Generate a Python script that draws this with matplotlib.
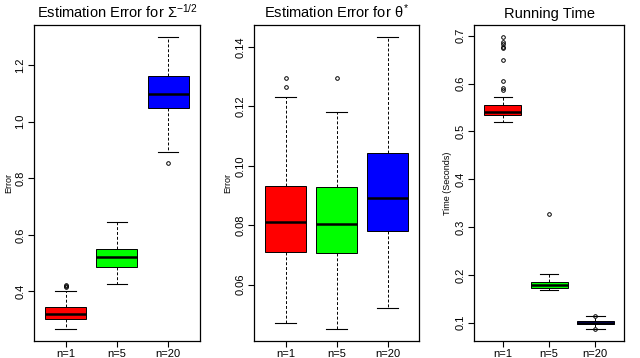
import matplotlib
matplotlib.use("Agg")
import matplotlib.pyplot as plt

plt.rcParams["font.family"] = ["Liberation Sans", "DejaVu Sans"]
plt.rcParams["mathtext.fontset"] = "custom"
plt.rcParams["mathtext.rm"] = "Liberation Sans"
plt.rcParams["mathtext.it"] = "Liberation Sans"

groups = ["n=1", "n=5", "n=20"]
box_colors = ["#FF0000", "#00FF00", "#0000FF"]

# panel 1: estimation error for Sigma^{-1/2}
sig_q1 = [0.302, 0.487, 1.048]
sig_med = [0.320, 0.523, 1.097]
sig_q3 = [0.345, 0.551, 1.161]
sig_lo = [0.266, 0.428, 0.893]
sig_hi = [0.403, 0.644, 1.299]
sig_fliers = [[0.415, 0.420, 0.424], [], [0.855]]

# panel 2: estimation error for theta*
th_q1 = [0.0711, 0.0707, 0.0779]
th_med = [0.0812, 0.0803, 0.0893]
th_q3 = [0.0931, 0.0929, 0.1042]
th_lo = [0.0470, 0.0449, 0.0521]
th_hi = [0.1231, 0.1181, 0.1435]
th_fliers = [[0.1266, 0.1295], [0.1297], []]

# panel 3: running time
rt_q1 = [0.534, 0.172, 0.097]
rt_med = [0.541, 0.178, 0.100]
rt_q3 = [0.555, 0.186, 0.104]
rt_lo = [0.520, 0.168, 0.086]
rt_hi = [0.571, 0.202, 0.114]
rt_fliers = [[0.587, 0.590, 0.606, 0.649, 0.675, 0.677, 0.682, 0.687, 0.697],
             [0.328], [0.114, 0.086]]

panels = [
    ("Estimation Error for $\\Sigma^{-1/2}$", "Error",
     (sig_q1, sig_med, sig_q3, sig_lo, sig_hi, sig_fliers),
     [0.4, 0.6, 0.8, 1.0, 1.2], ["0.4", "0.6", "0.8", "1.0", "1.2"],
     (0.225, 1.342), [0.053, 0.3125]),
    ("Estimation Error for $\\theta^{*}$", "Error",
     (th_q1, th_med, th_q3, th_lo, th_hi, th_fliers),
     [0.06, 0.08, 0.10, 0.12, 0.14], ["0.06", "0.08", "0.10", "0.12", "0.14"],
     (0.0410, 0.1474), [0.397, 0.655]),
    ("Running Time", "Time (Seconds)",
     (rt_q1, rt_med, rt_q3, rt_lo, rt_hi, rt_fliers),
     [0.1, 0.2, 0.3, 0.4, 0.5, 0.6, 0.7],
     ["0.1", "0.2", "0.3", "0.4", "0.5", "0.6", "0.7"],
     (0.0616, 0.7225), [0.741, 0.975]),
]

ylab_x = [4 / 640, 223 / 640, 443 / 640]

fig = plt.figure(figsize=(6.4, 3.58), dpi=100)
bottom, top = 17 / 358, 333 / 358

for k, (title, ylab, vals, ticks, ticklabels, ylim, xr) in enumerate(panels):
    ax = fig.add_axes([xr[0], bottom, xr[1] - xr[0], top - bottom])
    q1, med, q3, lo, hi, fl = vals
    stats = []
    for i in range(3):
        stats.append({"q1": q1[i], "med": med[i], "q3": q3[i],
                      "whislo": lo[i], "whishi": hi[i], "fliers": fl[i],
                      "label": groups[i]})
    bp = ax.bxp(stats, positions=[1, 2, 3], widths=0.8, patch_artist=True,
                boxprops=dict(edgecolor="black", linewidth=0.7),
                medianprops=dict(color="black", linewidth=1.8),
                whiskerprops=dict(color="black", linewidth=0.7, linestyle=(0, (3, 2))),
                capprops=dict(color="black", linewidth=0.8),
                flierprops=dict(marker="o", markersize=2.6, markerfacecolor="none",
                                markeredgecolor="black", markeredgewidth=0.7),
                capwidths=0.4)
    for patch, c in zip(bp["boxes"], box_colors):
        patch.set_facecolor(c)
    ax.set_xlim(0.38, 3.62)
    ax.set_ylim(*ylim)
    ax.set_yticks(ticks)
    ax.set_yticklabels(ticklabels, rotation=90, va="center")
    ax.set_xticks([1, 2, 3])
    ax.set_xticklabels(groups)
    ax.tick_params(labelsize=8, length=4, width=0.8, pad=2)
    for s in ax.spines.values():
        s.set_linewidth(0.9)
    ax.set_title(title, fontsize=10.5, pad=5)
    fig.text(ylab_x[k], (bottom + top) / 2, ylab, rotation=90, fontsize=6.5,
             ha="left", va="center")

fig.savefig("out.png", dpi=100)
